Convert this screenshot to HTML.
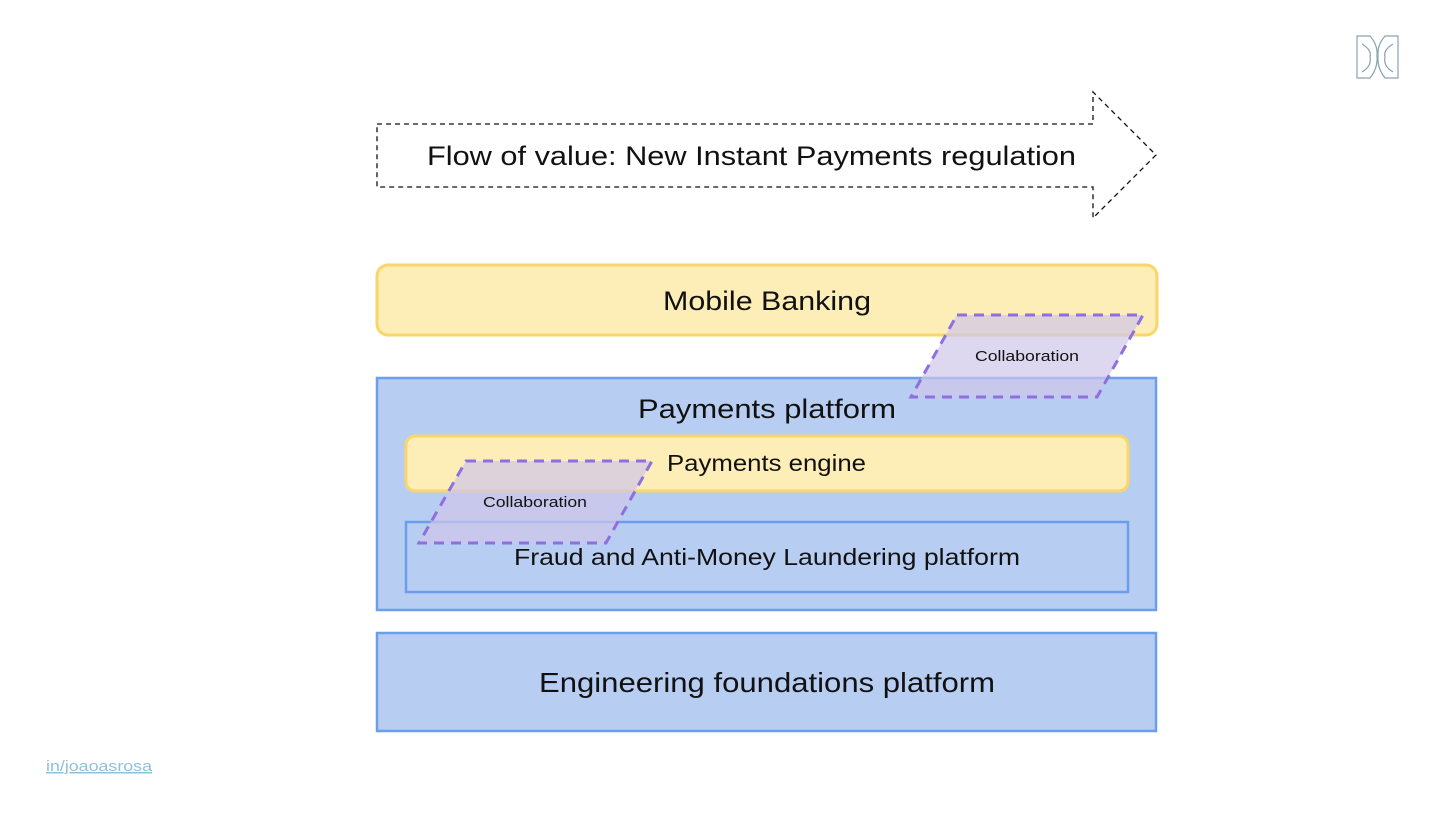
<!DOCTYPE html>
<html><head><meta charset="utf-8"><style>
body{margin:0;width:1440px;height:810px;background:#fff;overflow:hidden;font-family:"Liberation Sans",sans-serif;}
svg text{font-family:"Liberation Sans",sans-serif;fill:#111;}
</style></head><body>
<svg width="1440" height="810" viewBox="0 0 1440 810" xmlns="http://www.w3.org/2000/svg">
<polygon points="377,124 1093,124 1093,92 1156,155 1093,218 1093,187 377,187" fill="#fff" stroke="#111" stroke-width="1.3" stroke-dasharray="5,4"/>
<text x="427" y="165" font-size="27" textLength="649" lengthAdjust="spacingAndGlyphs">Flow of value: New Instant Payments regulation</text>

<rect x="377" y="265" width="780" height="70" rx="11" fill="#fdedb6" stroke="#f8d66b" stroke-width="3"/>
<text x="663" y="310" font-size="27" textLength="208" lengthAdjust="spacingAndGlyphs">Mobile Banking</text>

<rect x="377" y="378" width="779" height="232" fill="#b8cdf2" stroke="#6d9eeb" stroke-width="2.5"/>
<text x="638" y="418" font-size="27" textLength="258" lengthAdjust="spacingAndGlyphs">Payments platform</text>
<rect x="406" y="436" width="722" height="55" rx="9" fill="#fdedb6" stroke="#f8d66b" stroke-width="3"/>
<text x="667" y="471" font-size="23" textLength="199" lengthAdjust="spacingAndGlyphs">Payments engine</text>
<rect x="406" y="522" width="722" height="70" fill="#b8cdf2" stroke="#6d9eeb" stroke-width="2.5"/>
<text x="514" y="565" font-size="23" textLength="506" lengthAdjust="spacingAndGlyphs">Fraud and Anti-Money Laundering platform</text>

<rect x="377" y="633" width="779" height="98" fill="#b8cdf2" stroke="#6d9eeb" stroke-width="2.5"/>
<text x="539" y="692" font-size="28" textLength="456" lengthAdjust="spacingAndGlyphs">Engineering foundations platform</text>

<polygon points="957,315 1143,315 1097,397 911,397" fill="#cfc6ea" fill-opacity="0.7" stroke="#8e6fe0" stroke-width="3" stroke-dasharray="10,7"/>
<text x="975" y="361" font-size="15" textLength="104" lengthAdjust="spacingAndGlyphs">Collaboration</text>
<polygon points="466,461 652,461 606,543 419,543" fill="#cfc6ea" fill-opacity="0.7" stroke="#8e6fe0" stroke-width="3" stroke-dasharray="10,7"/>
<text x="483" y="507" font-size="15" textLength="104" lengthAdjust="spacingAndGlyphs">Collaboration</text>

<g fill="none" stroke="#8aa3ad" stroke-width="1.2">
<path d="M1357,36 L1370,36 Q1378,45 1377,56 Q1378,68 1370,78 L1357,78 Z"/>
<path d="M1398,36 L1385,36 Q1377,45 1378,56 Q1377,68 1385,78 L1398,78 Z"/>
<path d="M1362,44 Q1372,50 1370,57 Q1372,66 1362,72"/>
<path d="M1393,44 Q1383,50 1385,57 Q1383,66 1393,72"/>
</g>
<text x="46" y="771" font-size="15" textLength="106" lengthAdjust="spacingAndGlyphs" style="fill:#8fc1d9" text-decoration="underline">in/joaoasrosa</text>
</svg>
</body></html>
